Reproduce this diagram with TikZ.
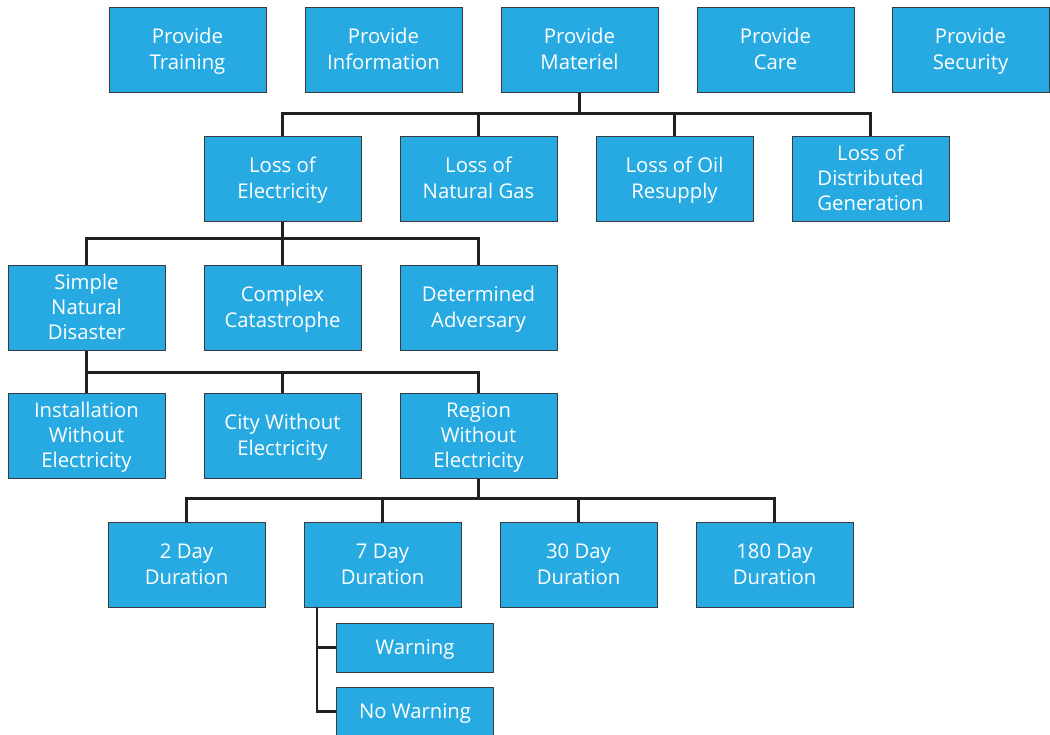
\documentclass[tikz,border=0pt]{standalone}
\usepackage{fontspec}
\setmainfont{Open Sans}
\definecolor{boxblue}{HTML}{27AAE1}
\definecolor{boxedge}{HTML}{3A3A3C}
\definecolor{linecol}{HTML}{231F20}
\newcommand\Ln[1]{\rule[-5.6pt]{0pt}{25.3pt}#1}
\begin{document}
\begin{tikzpicture}[x=1pt,y=-1pt,
  box/.style={draw=boxedge,line width=1pt,fill=boxblue,text=white,align=center,
    minimum width=157pt,minimum height=85pt,inner sep=0pt,
    font=\fontsize{20.3}{25.3}\selectfont},
  sbox/.style={box,minimum height=49pt},
  conn/.style={draw=linecol,line width=2.6pt}]
\useasboundingbox (0,0) rectangle (1050,734);
% row 1
\node[box] (pt) at (187.5,49.5) {\Ln{Provide}\\\Ln{Training}};
\node[box] (pi) at (383.5,49.5) {\Ln{Provide}\\\Ln{Information}};
\node[box] (pm) at (579.5,49.5) {\Ln{Provide}\\\Ln{Materiel}};
\node[box] (pc) at (775.5,49.5) {\Ln{Provide}\\\Ln{Care}};
\node[box] (ps) at (970.5,49.5) {\Ln{Provide}\\\Ln{Security}};
% row 2
\node[box] (le) at (282.5,178.5) {\Ln{Loss of}\\\Ln{Electricity}};
\node[box] (lg) at (478.5,178.5) {\Ln{Loss of}\\\Ln{Natural Gas}};
\node[box] (lo) at (674.5,178.5) {\Ln{Loss of Oil}\\\Ln{Resupply}};
\node[box] (ld) at (870.5,178.5) {\Ln{Loss of}\\\Ln{Distributed}\\\Ln{Generation}};
% row 3
\node[box] (sn) at (86.5,307.5) {\Ln{Simple}\\\Ln{Natural}\\\Ln{Disaster}};
\node[box] (cc) at (282.5,307.5) {\Ln{Complex}\\\Ln{Catastrophe}};
\node[box] (da) at (478.5,307.5) {\Ln{Determined}\\\Ln{Adversary}};
% row 4
\node[box] (iw) at (86.5,435.5) {\Ln{Installation}\\\Ln{Without}\\\Ln{Electricity}};
\node[box] (cw) at (282.5,435.5) {\Ln{City Without}\\\Ln{Electricity}};
\node[box] (rw) at (478.5,435.5) {\Ln{Region}\\\Ln{Without}\\\Ln{Electricity}};
% row 5
\node[box] (d2) at (186.5,564.5) {\Ln{2 Day}\\\Ln{Duration}};
\node[box] (d7) at (382.5,564.5) {\Ln{7 Day}\\\Ln{Duration}};
\node[box] (d30) at (578.5,564.5) {\Ln{30 Day}\\\Ln{Duration}};
\node[box] (d180) at (774.5,564.5) {\Ln{180 Day}\\\Ln{Duration}};
% row 6
\node[sbox] (wa) at (415,647.5) {\Ln{Warning}};
\node[sbox] (nw) at (415,711.5) {\Ln{No Warning}};
% connectors
\draw[conn] (pm.south) -- ++(0,21) coordinate (b1);
\draw[conn] (le.north) |- (b1) -| (ld.north);
\draw[conn] (lg.north) -- (lg.north |- b1);
\draw[conn] (lo.north) -- (lo.north |- b1);

\draw[conn] (le.south) -- ++(0,17) coordinate (b2);
\draw[conn] (sn.north) |- (b2) -| (da.north);
\draw[conn] (cc.north) -- (cc.north |- b2);

\draw[conn] (sn.south) -- ++(0,22) coordinate (b3);
\draw[conn] (iw.north) |- (b3) -| (rw.north);
\draw[conn] (cw.north) -- (cw.north |- b3);

\draw[conn] (rw.south) -- ++(0,20) coordinate (b4);
\draw[conn] (d2.north) |- (b4) -| (d180.north);
\draw[conn] (d7.north) -- (d7.north |- b4);
\draw[conn] (d30.north) -- (d30.north |- b4);

\coordinate (t7) at (317,607);
\draw[conn] (t7) |- (nw.west);
\draw[conn] (t7 |- wa.west) -- (wa.west);
\end{tikzpicture}
\end{document}
